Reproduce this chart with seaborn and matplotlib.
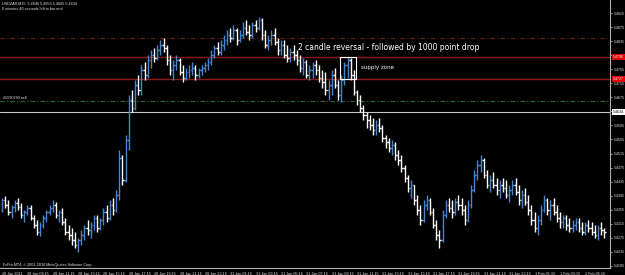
import matplotlib
matplotlib.use("Agg")
import matplotlib.pyplot as plt
from matplotlib import font_manager
import seaborn as sns
import numpy as np
import pandas as pd
from matplotlib.patches import Rectangle

sns.set_style("dark", {"axes.facecolor": "black", "figure.facecolor": "black"})

def pick_family(cands):
    for c in cands:
        try:
            font_manager.findfont(font_manager.FontProperties(family=c), fallback_to_default=False)
            return c
        except Exception:
            continue
    return "DejaVu Sans"

SMALL_FAM = pick_family(["Liberation Sans Narrow", "DejaVu Sans Condensed", "Liberation Sans"])
plt.rcParams['font.family'] = [SMALL_FAM, 'DejaVu Sans']

# ---- data (USDZAR M15) ----
bar_open = [5.4354,5.4383,5.4369,5.4349,5.4363,5.4374,5.4363,5.4340,5.4349,5.4360,
            5.4332,5.4312,5.4292,5.4312,5.4332,5.4349,5.4360,5.4369,5.4340,5.4349,
            5.4320,5.4292,5.4283,5.4269,5.4255,5.4269,5.4283,5.4303,5.4297,5.4312,
            5.4332,5.4303,5.4326,5.4349,5.4332,5.4369,5.4354,5.4397,5.4502,5.4440,
            5.4554,5.4667,5.4645,5.4710,5.4696,5.4753,5.4739,5.4781,5.4795,5.4787,
            5.4810,5.4824,5.4815,5.4781,5.4753,5.4767,5.4781,5.4747,5.4730,5.4747,
            5.4753,5.4758,5.4739,5.4753,5.4758,5.4767,5.4776,5.4795,5.4815,5.4804,
            5.4824,5.4838,5.4852,5.4844,5.4867,5.4838,5.4852,5.4872,5.4861,5.4852,
            5.4881,5.4872,5.4895,5.4852,5.4824,5.4838,5.4852,5.4832,5.4810,5.4824,
            5.4795,5.4787,5.4804,5.4795,5.4781,5.4758,5.4776,5.4739,5.4753,5.4767,
            5.4753,5.4730,5.4719,5.4696,5.4710,5.4739,5.4710,5.4682,5.4724,5.4767,
            5.4781,5.4739,5.4690,5.4667,5.4645,5.4625,5.4610,5.4596,5.4582,5.4596,
            5.4588,5.4559,5.4548,5.4531,5.4539,5.4511,5.4497,5.4474,5.4445,5.4417,
            5.4425,5.4383,5.4354,5.4326,5.4369,5.4383,5.4349,5.4312,5.4283,5.4269,
            5.4340,5.4369,5.4360,5.4349,5.4377,5.4369,5.4354,5.4326,5.4369,5.4411,
            5.4454,5.4482,5.4497,5.4454,5.4425,5.4440,5.4425,5.4411,5.4425,5.4417,
            5.4397,5.4411,5.4425,5.4406,5.4383,5.4397,5.4377,5.4354,5.4326,5.4303,
            5.4326,5.4354,5.4383,5.4354,5.4369,5.4349,5.4332,5.4320,5.4332,5.4312,
            5.4303,5.4312,5.4320,5.4303,5.4292,5.4312,5.4303,5.4292,5.4283,5.4303,
            5.4297]
bar_high = [5.4388,5.4394,5.4383,5.4369,5.4383,5.4388,5.4374,5.4354,5.4369,5.4369,
            5.4340,5.4326,5.4320,5.4340,5.4354,5.4369,5.4383,5.4377,5.4354,5.4360,
            5.4332,5.4312,5.4303,5.4292,5.4275,5.4297,5.4312,5.4326,5.4320,5.4340,
            5.4340,5.4332,5.4360,5.4369,5.4383,5.4388,5.4411,5.4525,5.4511,5.4568,
            5.4682,5.4696,5.4724,5.4739,5.4767,5.4776,5.4795,5.4810,5.4815,5.4824,
            5.4838,5.4844,5.4824,5.4795,5.4781,5.4795,5.4787,5.4767,5.4758,5.4767,
            5.4776,5.4767,5.4758,5.4767,5.4776,5.4787,5.4810,5.4824,5.4832,5.4838,
            5.4852,5.4867,5.4872,5.4881,5.4872,5.4867,5.4889,5.4895,5.4881,5.4889,
            5.4895,5.4904,5.4901,5.4867,5.4852,5.4867,5.4872,5.4844,5.4838,5.4838,
            5.4824,5.4815,5.4824,5.4810,5.4795,5.4787,5.4781,5.4767,5.4776,5.4781,
            5.4767,5.4753,5.4747,5.4724,5.4753,5.4758,5.4724,5.4739,5.4776,5.4790,
            5.4787,5.4753,5.4696,5.4682,5.4653,5.4633,5.4625,5.4616,5.4610,5.4616,
            5.4596,5.4568,5.4559,5.4554,5.4548,5.4525,5.4511,5.4482,5.4454,5.4440,
            5.4425,5.4397,5.4369,5.4383,5.4397,5.4388,5.4360,5.4326,5.4297,5.4354,
            5.4383,5.4388,5.4383,5.4388,5.4397,5.4388,5.4369,5.4383,5.4425,5.4468,
            5.4497,5.4511,5.4502,5.4468,5.4454,5.4463,5.4445,5.4440,5.4445,5.4440,
            5.4425,5.4440,5.4445,5.4425,5.4411,5.4417,5.4397,5.4369,5.4349,5.4340,
            5.4369,5.4397,5.4388,5.4383,5.4388,5.4369,5.4349,5.4340,5.4340,5.4332,
            5.4326,5.4332,5.4332,5.4320,5.4320,5.4326,5.4320,5.4312,5.4312,5.4320,
            5.4303]
bar_low = [5.4349,5.4360,5.4340,5.4332,5.4349,5.4354,5.4332,5.4320,5.4340,5.4326,
           5.4303,5.4283,5.4280,5.4303,5.4320,5.4340,5.4349,5.4332,5.4320,5.4312,
           5.4283,5.4269,5.4255,5.4246,5.4235,5.4255,5.4269,5.4283,5.4275,5.4297,
           5.4292,5.4297,5.4312,5.4320,5.4326,5.4340,5.4349,5.4383,5.4425,5.4434,
           5.4525,5.4633,5.4639,5.4682,5.4682,5.4724,5.4730,5.4758,5.4776,5.4781,
           5.4795,5.4804,5.4767,5.4739,5.4724,5.4753,5.4739,5.4719,5.4724,5.4730,
           5.4739,5.4724,5.4730,5.4739,5.4747,5.4753,5.4767,5.4787,5.4795,5.4795,
           5.4810,5.4824,5.4832,5.4838,5.4824,5.4832,5.4844,5.4852,5.4838,5.4844,
           5.4861,5.4867,5.4838,5.4815,5.4810,5.4824,5.4824,5.4795,5.4795,5.4787,
           5.4776,5.4776,5.4781,5.4767,5.4747,5.4739,5.4730,5.4724,5.4730,5.4739,
           5.4719,5.4702,5.4682,5.4667,5.4682,5.4702,5.4667,5.4662,5.4710,5.4730,
           5.4724,5.4682,5.4653,5.4633,5.4610,5.4588,5.4582,5.4568,5.4568,5.4576,
           5.4548,5.4531,5.4519,5.4511,5.4497,5.4482,5.4463,5.4434,5.4406,5.4388,
           5.4369,5.4340,5.4312,5.4320,5.4354,5.4340,5.4303,5.4269,5.4246,5.4263,
           5.4332,5.4349,5.4332,5.4340,5.4354,5.4340,5.4312,5.4320,5.4360,5.4406,
           5.4440,5.4463,5.4445,5.4417,5.4406,5.4417,5.4397,5.4388,5.4406,5.4388,
           5.4377,5.4397,5.4397,5.4369,5.4360,5.4369,5.4340,5.4312,5.4292,5.4283,
           5.4312,5.4349,5.4340,5.4326,5.4340,5.4320,5.4303,5.4303,5.4297,5.4292,
           5.4292,5.4297,5.4292,5.4283,5.4283,5.4292,5.4283,5.4275,5.4269,5.4283,
           5.4275]
bar_close = [5.4383,5.4369,5.4349,5.4363,5.4374,5.4363,5.4340,5.4349,5.4360,5.4332,
             5.4312,5.4292,5.4312,5.4332,5.4349,5.4360,5.4369,5.4340,5.4349,5.4320,
             5.4292,5.4283,5.4269,5.4255,5.4269,5.4283,5.4303,5.4297,5.4312,5.4332,
             5.4303,5.4326,5.4349,5.4332,5.4369,5.4354,5.4397,5.4502,5.4440,5.4554,
             5.4667,5.4645,5.4710,5.4696,5.4753,5.4739,5.4781,5.4795,5.4787,5.4810,
             5.4824,5.4815,5.4781,5.4753,5.4767,5.4781,5.4747,5.4730,5.4747,5.4753,
             5.4758,5.4739,5.4753,5.4758,5.4767,5.4776,5.4795,5.4815,5.4804,5.4824,
             5.4838,5.4852,5.4844,5.4867,5.4838,5.4852,5.4872,5.4861,5.4852,5.4881,
             5.4872,5.4895,5.4852,5.4824,5.4838,5.4852,5.4832,5.4810,5.4824,5.4795,
             5.4787,5.4804,5.4795,5.4781,5.4758,5.4776,5.4739,5.4753,5.4767,5.4753,
             5.4730,5.4719,5.4696,5.4710,5.4739,5.4710,5.4682,5.4724,5.4767,5.4781,
             5.4739,5.4690,5.4667,5.4645,5.4625,5.4610,5.4596,5.4582,5.4596,5.4588,
             5.4559,5.4548,5.4531,5.4539,5.4511,5.4497,5.4474,5.4445,5.4417,5.4425,
             5.4383,5.4354,5.4326,5.4369,5.4383,5.4349,5.4312,5.4283,5.4269,5.4340,
             5.4369,5.4360,5.4349,5.4377,5.4369,5.4354,5.4326,5.4369,5.4411,5.4454,
             5.4482,5.4497,5.4454,5.4425,5.4440,5.4425,5.4411,5.4425,5.4417,5.4397,
             5.4411,5.4425,5.4406,5.4383,5.4397,5.4377,5.4354,5.4326,5.4303,5.4326,
             5.4354,5.4383,5.4354,5.4369,5.4349,5.4332,5.4320,5.4332,5.4312,5.4303,
             5.4312,5.4320,5.4303,5.4292,5.4312,5.4303,5.4292,5.4283,5.4303,5.4297,
             5.4292]

time_labels = ["28 Jan 2011", "28 Jan 09:15", "28 Jan 11:15", "28 Jan 13:15", "28 Jan 15:15",
               "28 Jan 17:15", "28 Jan 19:15", "28 Jan 21:15", "28 Jan 23:15", "31 Jan 01:15",
               "31 Jan 03:15", "31 Jan 05:15", "31 Jan 07:15", "31 Jan 09:15", "31 Jan 11:15",
               "31 Jan 13:15", "31 Jan 15:15", "31 Jan 17:15", "31 Jan 19:15", "31 Jan 21:15",
               "31 Jan 23:15", "1 Feb 01:15", "1 Feb 03:15", "1 Feb 05:15"]
price_ticks = [5.4915, 5.4875, 5.4835, 5.4795, 5.4755, 5.4715, 5.4675, 5.4635, 5.4595,
               5.4555, 5.4515, 5.4475, 5.4435, 5.4395, 5.4355, 5.4315, 5.4275, 5.4235, 5.4195]

supply_top = 5.4790
supply_bottom = 5.4727
stop_level = 5.4844
order_level = 5.4665
bid_level = 5.4634
order_label = "#5590290 sell"
header_line1 = "USDZAR,M15  5.4646 5.4653 5.4605 5.4634"
header_line2 = "0 minutes 40 seconds left to bar end"
copyright_text = "FxPro MT4, \u00a9 2001-2010 MetaQuotes Software Corp."
note_text = "2 candle reversal - followed by 1000 point drop"
zone_text = "supply zone"

df = pd.DataFrame({"open": bar_open, "high": bar_high, "low": bar_low, "close": bar_close})
df["idx"] = np.arange(len(df))
df["up"] = df["close"] >= df["open"]

UP = "#4a86cf"
DN = "#ffffff"
TXT = "#e6e6e6"
NOTE_FAM = ["DejaVu Sans"]

fig = plt.figure(figsize=(6.25, 2.75), dpi=100, facecolor="black")
renderer = fig.canvas.get_renderer()

def fit_size(sample, target_px, family=None):
    kw = {} if family is None else {"family": family}
    t = fig.text(0, 0, sample, fontsize=10, **kw)
    w = t.get_window_extent(renderer).width
    t.remove()
    return 10.0 * target_px / w

FS = fit_size("28 Jan 09:15", 22.0)
FS_Y = fit_size("5.4915", 11.0)
FS_NOTE = fit_size(note_text, 180.0, NOTE_FAM)
FS_ZONE = fit_size(zone_text, 33.0, NOTE_FAM)

ax = fig.add_axes([0.0, 7 / 275, 610 / 625, 268 / 275])
ax.set_facecolor("black")

ax.set_xlim(-0.63, 191.8)
ax.set_ylim(5.41893, 5.49520)

# horizontal levels
ax.axhline(supply_top, color="#8c1a1a", lw=1.0, zorder=1)
ax.axhline(supply_bottom, color="#8c1a1a", lw=1.0, zorder=1)
ax.axhline(stop_level, color="#6a1c1c", lw=0.8, ls=(0, (4, 2, 1, 2)), zorder=1)
ax.axhline(order_level, color="#2f6b2f", lw=0.8, ls=(0, (4, 2, 1, 2)), zorder=1)
ax.axhline(bid_level, color="#c8c8c8", lw=0.8, zorder=1)

# OHLC bars
colors = [UP if u else DN for u in df["up"]]
ax.vlines(df["idx"], df["low"], df["high"], colors=colors, lw=1.0, zorder=3)
ax.hlines(df["open"], df["idx"] - 0.45, df["idx"], colors=colors, lw=1.0, zorder=3)
ax.hlines(df["close"], df["idx"], df["idx"] + 0.45, colors=colors, lw=1.0, zorder=3)

# supply zone rectangle
ax.add_patch(Rectangle((106.6, supply_bottom), 5.1, supply_top - supply_bottom,
                       fill=False, edgecolor="white", lw=0.8, zorder=4))
ax.text(113.2, (supply_top + supply_bottom) / 2, zone_text, color="white",
        fontsize=FS_ZONE, va="center", ha="left", zorder=5, family=NOTE_FAM)
ax.text(122.1, 5.4818, note_text, color="white", fontsize=FS_NOTE, va="center", ha="center",
        zorder=5, family=NOTE_FAM)
ax.text(0.3, order_level + 0.0003, order_label, color=TXT, fontsize=FS, va="bottom", ha="left")

# axes styling
for s in ["top", "left"]:
    ax.spines[s].set_visible(False)
ax.spines["right"].set_color("#b0b0b0")
ax.spines["bottom"].set_color("#b0b0b0")
ax.spines["right"].set_linewidth(0.8)
ax.spines["bottom"].set_linewidth(0.8)
ax.yaxis.tick_right()
ax.set_yticks(price_ticks)
ax.set_yticklabels([f"{p:.4f}" for p in price_ticks], fontsize=FS_Y, color=TXT)
ax.tick_params(axis="y", length=1.5, width=0.6, color="#b0b0b0", pad=1.0)
xt = np.arange(len(time_labels)) * 8
ax.set_xticks(xt)
ax.set_xticklabels(time_labels, fontsize=FS, color=TXT, ha="left")
ax.tick_params(axis="x", length=2, width=0.6, color="#b0b0b0", pad=0.6)
ax.grid(False)

# right-axis price boxes
def price_box(y, text, fc, tc):
    ax.text(1.0045, y, text, transform=ax.get_yaxis_transform(), fontsize=FS_Y, color=tc,
            va="center", ha="left", zorder=10, clip_on=False,
            bbox=dict(boxstyle="square,pad=0.25", fc=fc, ec=fc, lw=0))

price_box(supply_top, f"{supply_top:.4f}", "#e00000", "white")
price_box(supply_bottom, f"{supply_bottom:.4f}", "#e00000", "white")
price_box(bid_level, f"{bid_level:.4f}", "white", "black")

# header / footer text
fig.text(2 / 625, 1 - 4 / 275, header_line1, color=TXT, fontsize=FS, va="center", ha="left")
fig.text(2 / 625, 1 - 9 / 275, header_line2, color=TXT, fontsize=FS, va="center", ha="left")
ax.text(0.3, 5.41893 + 0.0004, copyright_text, color=TXT, fontsize=FS, va="bottom", ha="left")

fig.savefig("out.png", dpi=100, facecolor="black")
